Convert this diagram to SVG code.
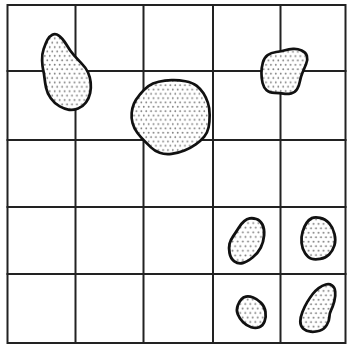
<svg xmlns="http://www.w3.org/2000/svg" width="347" height="350" viewBox="0 0 347 350">
<style>
.grid{stroke:#222;stroke-width:2;fill:none;stroke-linecap:square}
.blob{fill:url(#dots);stroke:#111;stroke-width:2.6;stroke-linejoin:round}
</style>
<defs>
<pattern id="dots" patternUnits="userSpaceOnUse" width="4.7" height="8.4">
<rect width="4.7" height="8.4" fill="#fff"/>
<circle cx="1.2" cy="2.1" r="0.85" fill="#7a7a7a"/>
<circle cx="3.55" cy="6.3" r="0.85" fill="#7a7a7a"/>
</pattern>
</defs>
<rect width="347" height="350" fill="#fff"/>
<g id="grid" class="grid">
<rect x="7.5" y="5" width="338" height="338"/>
<line x1="75.5" y1="5" x2="75.5" y2="343"/>
<line x1="143.5" y1="5" x2="143.5" y2="343"/>
<line x1="213" y1="5" x2="213" y2="343"/>
<line x1="280.5" y1="5" x2="280.5" y2="343"/>
<line x1="7.5" y1="71" x2="345.5" y2="71"/>
<line x1="7.5" y1="140" x2="345.5" y2="140"/>
<line x1="7.5" y1="207" x2="345.5" y2="207"/>
<line x1="7.5" y1="274" x2="345.5" y2="274"/>
</g>
<g id="blob1" transform="translate(66,72) scale(1.05) translate(-66,-72)"><path class="blob" d="M59.5,37.5 Q63,40 66.5,46 Q70,52 73.5,56 Q77,60 81,64 Q85,68 87,72.5 Q89,77 89.5,82 Q90,87 89,92 Q88,97 85,101 Q82,105 77.5,106.75 Q73,108.5 69,108 Q65,107.5 60,104.75 Q55,102 51.5,97 Q48,92 47,87 Q46,82 45.5,77.5 Q45,73 44.25,70 Q43.5,67 43.25,61 Q43,55 44.75,50 Q46.5,45 48.25,41.5 Q50,38 53,36.5 Q56,35 59.5,37.5 Z"/></g>
<g id="blob2" transform="translate(170,117) scale(1.03) translate(-170,-117)"><path class="blob" d="M149,87 Q153,84 159,82.75 Q165,81.5 171.5,81.25 Q178,81 185,82.25 Q192,83.5 196,86.75 Q200,90 202.5,94 Q205,98 206.75,103 Q208.5,108 208.5,115 Q208.5,122 207.5,127 Q206.5,132 203.25,136 Q200,140 195,143.5 Q190,147 184,149.5 Q178,152 171.5,152.75 Q165,153.5 160,151.75 Q155,150 151.5,146.5 Q148,143 144.75,139.75 Q141.5,136.5 138.25,132.25 Q135,128 133.65,123 Q132.3,118 132.8,113 Q133.3,108 135,104 Q136.7,100 140.85,95 Q145,90 149,87 Z"/></g>
<g id="blob3" transform="translate(284,71) scale(1.04) translate(-284,-71)"><path class="blob" d="M268.25,55.75 Q271.5,53.5 276.5,52.75 Q281.5,52 285,51 Q288.5,50 292.75,49.75 Q297,49.5 301,51.25 Q305,53 306,56.5 Q307,60 305.25,64.25 Q303.5,68.5 301.75,72.75 Q300,77 299.25,81 Q298.5,85 296.75,88.25 Q295,91.5 291,92.5 Q287,93.5 283.5,92.75 Q280,92 275,92 Q270,92 267.25,89.5 Q264.5,87 263.4,82.5 Q262.3,78 262.3,73 Q262.3,68 263.65,63 Q265,58 268.25,55.75 Z"/></g>
<g id="blob4" transform="translate(247,241) scale(1.1) translate(-247,-241)"><path class="blob" d="M255.5,221 Q259,222 261,226 Q263,230 262.5,236 Q262,242 259.5,247 Q257,252 252,256 Q247,260 243,261 Q239,262 235.5,259.5 Q232,257 231.15,252 Q230.3,247 231.15,243.5 Q232,240 234.5,236.5 Q237,233 239.5,229 Q242,225 244.5,223 Q247,221 249.5,220.5 Q252,220 255.5,221 Z"/></g>
<g id="blob5" transform="translate(318,238) scale(1.06) translate(-318,-238)"><path class="blob" d="M320,219 Q325,220 328.5,224 Q332,228 333.5,234 Q335,240 333.5,245 Q332,250 328.5,253.5 Q325,257 320,257.75 Q315,258.5 311.85,257.6 Q308.7,256.7 305.85,252.35 Q303,248 302.5,242.5 Q302,237 303.5,232 Q305,227 307.25,223.75 Q309.5,220.5 312.25,219.25 Q315,218 320,219 Z"/></g>
<g id="blob6" transform="translate(251,312) scale(1.07) translate(-251,-312)"><path class="blob" d="M253,298.5 Q257,300 260.35,303.35 Q263.7,306.7 264.5,311.7 Q265.3,316.7 263.65,320.85 Q262,325 258.65,326.25 Q255.3,327.5 251.15,326.25 Q247,325 243.65,321.65 Q240.3,318.3 238.65,314.15 Q237,310 238.65,305.85 Q240.3,301.7 242,300 Q243.7,298.3 246.35,297.65 Q249,297 253,298.5 Z"/></g>
<g id="blob7" transform="translate(318,308) scale(1.06) translate(-318,-308)"><path class="blob" d="M331.2,286.65 Q333.7,288.3 334.2,292.5 Q334.7,296.7 333.35,301.7 Q332,306.7 330.35,310 Q328.7,313.3 328.7,316.65 Q328.7,320 326.2,324.15 Q323.7,328.3 319.5,329.5 Q315.3,330.7 311.15,330.35 Q307,330 304.15,327.5 Q301.3,325 301.3,320.85 Q301.3,316.7 303.3,311.7 Q305.3,306.7 307.8,302.5 Q310.3,298.3 312.8,295 Q315.3,291.7 318.65,289.2 Q322,286.7 325.35,285.85 Q328.7,285 331.2,286.65 Z"/></g>
</svg>
